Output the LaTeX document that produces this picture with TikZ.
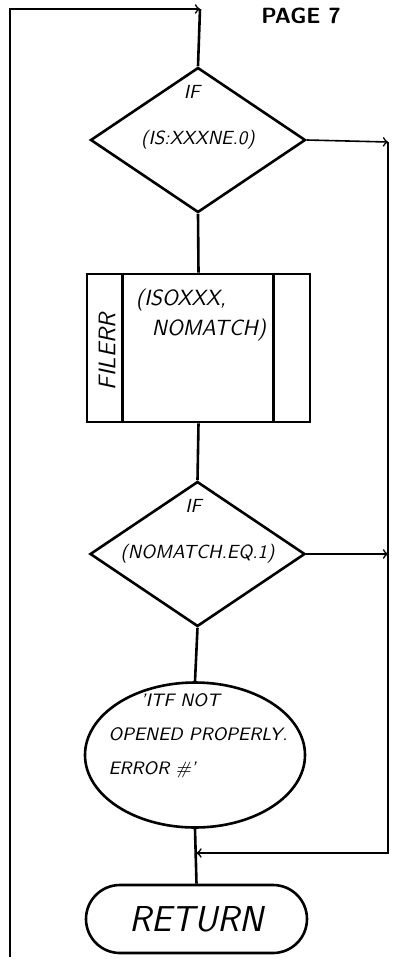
\documentclass[tikz,border=0pt]{standalone}
\usepackage{tikz}
\usetikzlibrary{shapes.geometric,positioning,calc}

\begin{document}
\begin{tikzpicture}[x=0.5pt, y=-0.5pt, line width=1.3pt,
		hand/.style={font=\sffamily\itshape\fontsize{9.5}{11}\selectfont},
		decision/.style={diamond, draw, inner sep=0pt, aspect=1.5, minimum width=107.5pt, minimum height=72.5pt, hand},
		thin line/.style={line width=0.8pt}]
		\useasboundingbox (0, 0) rectangle (398, 964);

		\node [font=\sffamily\bfseries\fontsize{11}{13}\selectfont] (page) at (301, 16) {PAGE 7};

		% first test
		\node [decision] (test1) at (198, 140) {(IS:XXXNE.0)};
		\node [hand, above=17pt of test1.center, xshift=-3pt] (if1) {IF};

		% subroutine call box with side strips
		\node [draw, minimum width=111.5pt, minimum height=74pt] (filerr) at (198.5, 348) {};
		\draw ($(filerr.north west)+(37, 0)$) -- ($(filerr.south west)+(37, 0)$);
		\draw ($(filerr.north east)+(-38, 0)$) -- ($(filerr.south east)+(-38, 0)$);
		\node [hand, rotate=90, font=\sffamily\itshape\fontsize{12}{14}\selectfont] (name) at (107, 352) {FILERR};
		\node [hand, align=left, anchor=west, font=\sffamily\itshape\fontsize{11}{13}\selectfont] (args) at (128, 315)
			{(ISOXXX,\\[2pt]\hspace*{8pt}NOMATCH)};

		% second test
		\node [decision] (test2) at (197.5, 554) {(NOMATCH.EQ.1)};
		\node [hand, above=17pt of test2.center, xshift=-2pt] (if2) {IF};

		% message connector
		\node [ellipse, draw, minimum width=110pt, minimum height=72.5pt, inner sep=0pt] (msg) at (195, 755) {};
		\node [hand, align=left, font=\sffamily\itshape\fontsize{9}{17}\selectfont] (text) at (198, 736)
			{\hspace*{16pt}'ITF NOT\\OPENED PROPERLY.\\ERROR \#'};

		% terminator
		\node [draw, rounded corners=17pt, minimum width=110.5pt, minimum height=34pt,
			font=\sffamily\itshape\fontsize{18}{20}\selectfont] (ret) at (196.5, 919) {RETURN};

		% flow lines
		\coordinate (entry) at (200, 9);
		\coordinate (loop) at (10, 957);
		\coordinate (side1) at (388, 142);
		\coordinate (side2) at (388, 554);
		\coordinate (side3) at (388, 853);
		\coordinate (join) at (ret.north |- side3);

		\draw [thin line, ->] (loop) |- (entry);
		\draw (entry) -- (test1.north);
		\draw (test1.south) -- (filerr.north);
		\draw (filerr.south) -- (test2.north);
		\draw (test2.south) -- (msg.north);
		\draw (msg.south) -- (ret.north);
		\draw [thin line, ->] (test1.east) -- (side1);
		\draw [thin line, ->] (test2.east) -- (side2);
		\draw [thin line, ->] (side1) |- (join);
	\end{tikzpicture}
\end{document}
